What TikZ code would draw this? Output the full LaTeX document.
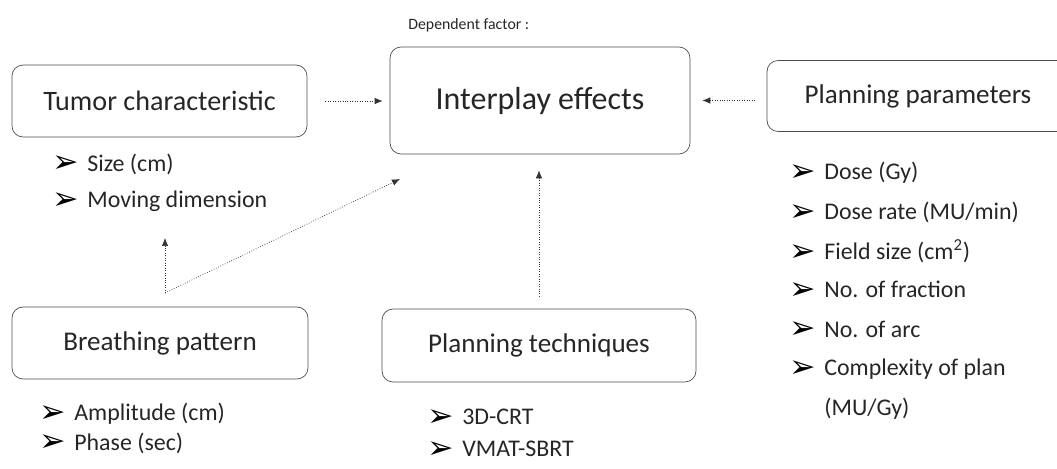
\documentclass[tikz,border=0pt]{standalone}
\usepackage{fontspec}
\setmainfont{Carlito}
\newfontfamily\symfont{DejaVu Sans}
\usetikzlibrary{arrows.meta}

\newcommand{\pointer}{\makebox[0.7cm][l]{\raisebox{-0.08em}{\symfont\fontsize{18}{18}\selectfont\color{black}➢}}}

\tikzset{
    factor/.style={draw=black!70, thin, rounded corners=0.22cm, inner sep=0pt,
        text=black!85, font=\fontsize{15.4}{18}\selectfont},
    effect/.style={factor, font=\fontsize{18.2}{22}\selectfont},
    item/.style={anchor=west, inner sep=0pt, text=black!85,
        font=\fontsize{13.6}{16}\selectfont},
    conn/.style={densely dotted, black!80, -{Latex[length=1.6mm,width=1.3mm]}},
}

\begin{document}
\begin{tikzpicture}[x=0.02cm, y=-0.02cm]
    \useasboundingbox (0,0) rectangle (1057,469);

    % dependent factor
    \node[effect, minimum width=6cm, minimum height=2.14cm]
        (interplay) at (540,100.5) {Interplay effects};
    \node[anchor=west, inner sep=0pt, text=black!85, font=\fontsize{9}{11}\selectfont]
        (dep) at (408,25) {Dependent factor :};

    % factors
    \node[factor, minimum width=5.9cm, minimum height=1.44cm, font=\fontsize{16}{18}\selectfont]
        (tumor) at (159.5,101) {Tumor characteristic};
    \node[factor, minimum width=6.04cm, minimum height=1.42cm]
        (params) at (918,96) {Planning parameters};
    \node[factor, minimum width=5.92cm, minimum height=1.44cm]
        (breathing) at (160,343) {Breathing pattern};
    \node[factor, minimum width=6.28cm, minimum height=1.46cm]
        (techniques) at (539,345.5) {Planning techniques};

    % lists
    \node[item] (tumor1) at (52,164) {\pointer Size (cm)};
    \node[item] (tumor2) at (52,201) {\pointer Moving dimension};

    \foreach \txt [count=\i] in {Dose (Gy), Dose rate (MU/min),
            Field size (cm\textsuperscript{2}), No. of fraction, No. of arc,
            Complexity of plan}
        \node[item] (param\i) at (789,{173+39.2*(\i-1)}) {\pointer \txt};
    \node[item] (param7) at (824,409) {(MU/Gy)};

    \node[item] (breathing1) at (39,414) {\pointer Amplitude (cm)};
    \node[item] (breathing2) at (39,443) {\pointer Phase (sec)};

    \node[item] (techniques1) at (427,418) {\pointer 3D-CRT};
    \node[item] (techniques2) at (427,450) {\pointer VMAT-SBRT};

    % connectors
    \draw[conn, shorten <=0.36cm, shorten >=0.14cm]
        (tumor.east) -- (tumor.east -| interplay.west);
    \draw[conn, shorten <=0.24cm, shorten >=0.24cm]
        (interplay.east -| params.west) -- (interplay.east);
    \draw[conn, shorten <=0.24cm, shorten >=0.32cm]
        (techniques.north) -- (techniques.north |- interplay.south);

    \coordinate (fork) at (165,293);
    \coordinate (tumorin) at (165,238);
    \coordinate (interin) at (400,179);
    \draw[conn] (fork) -- (tumorin);
    \draw[conn] (fork) -- (interin);

\end{tikzpicture}
\end{document}
